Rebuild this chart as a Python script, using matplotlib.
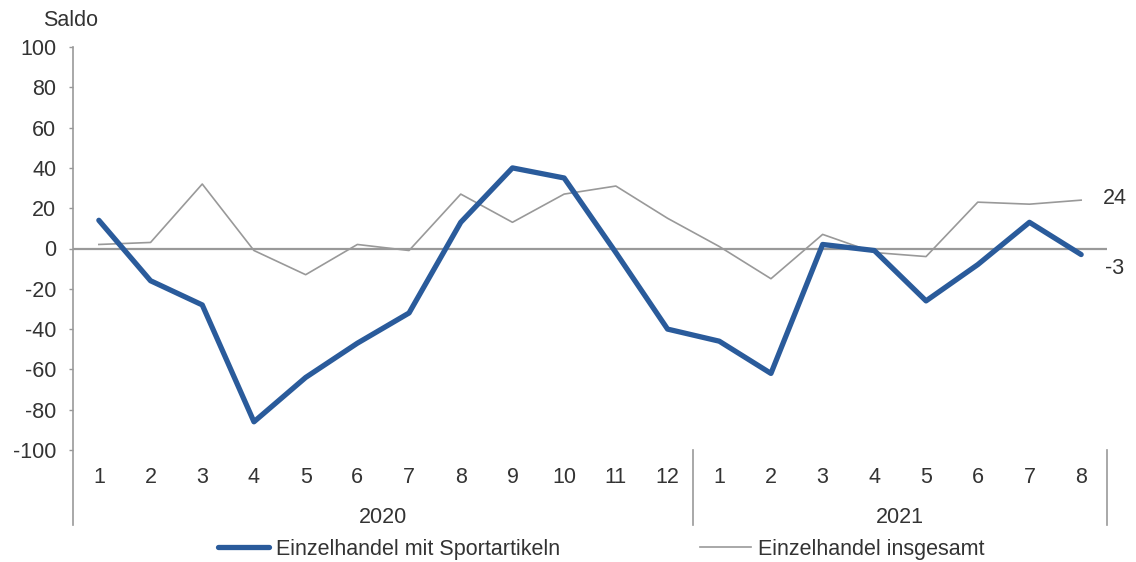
import numpy as np
import matplotlib.pyplot as plt

plt.rcParams['font.family'] = ['Liberation Sans', 'DejaVu Sans']
plt.rcParams['axes.unicode_minus'] = False

# %% Data
months = ['1', '2', '3', '4', '5', '6', '7', '8', '9', '10', '11', '12',
          '1', '2', '3', '4', '5', '6', '7', '8']
years = ['2020', '2021']
months_per_year = [12, 8]
sport = [14, -16, -28, -86, -64, -47, -32, 13, 40, 35, -2, -40,
         -46, -62, 2, -1, -26, -8, 13, -3]
total = [2, 3, 32, -1, -13, 2, -1, 27, 13, 27, 31, 15,
         1, -15, 7, -2, -4, 23, 22, 24]

blue = '#2a5b9b'
grey = '#999999'
txt = '#333333'
fs = 15.5

# %% Plot
fig = plt.figure(figsize=(11.36, 5.62), dpi=100)
ax = fig.add_axes([73 / 1136, 1 - 450 / 562, (1107 - 73) / 1136, (450 - 47) / 562])

x = np.arange(len(months))
ax.axhline(0, color=grey, linewidth=1.6, zorder=1)
ax.plot(x, total, color=grey, linewidth=1.2, label='Einzelhandel insgesamt', zorder=2)
ax.plot(x, sport, color=blue, linewidth=3.8, solid_capstyle='round',
        label='Einzelhandel mit Sportartikeln', zorder=3)

ax.set_xlim(-0.5, len(months) - 0.5)
ax.set_ylim(-100, 100)
ax.set_yticks(range(-100, 101, 20))
ax.tick_params(axis='y', colors=grey, length=3, width=1, labelsize=fs, labelcolor=txt, pad=9)
ax.set_xticks([])
for s in ['top', 'right', 'bottom', 'left']:
    ax.spines[s].set_visible(False)

# axis line and category separators, extended below the plot
tr = ax.get_xaxis_transform()
ax.plot([-0.5, -0.5], [1, -0.186], color=grey, linewidth=1.2, transform=tr, clip_on=False)
start = 0
for yr, n in zip(years, months_per_year):
    end = start + n
    ax.plot([end - 0.5, end - 0.5], [0, -0.186], color=grey, linewidth=1.2,
            transform=tr, clip_on=False)
    ax.text((start + end - 1) / 2, -0.168, yr, transform=tr, ha='center', va='center',
            fontsize=fs, color=txt)
    start = end
for i, m in enumerate(months):
    ax.text(i, -0.068, m, transform=tr, ha='center', va='center', fontsize=fs, color=txt)

# end labels
ax.annotate(f'{total[-1]}', (x[-1], total[-1]), xytext=(16, 1), textcoords='offset points',
            ha='left', va='center', fontsize=fs, color=txt)
ax.annotate(f'{sport[-1]}', (x[-1], sport[-1]), xytext=(17, -10), textcoords='offset points',
            ha='left', va='center', fontsize=fs, color=txt)

fig.text(71 / 1136, 1 - 20 / 562, 'Saldo', ha='center', va='center', fontsize=fs, color=txt)

handles, labels = ax.get_legend_handles_labels()
fig.legend(handles[::-1], labels[::-1], loc='center', bbox_to_anchor=(0.529, 1 - 549 / 562),
           ncol=2, frameon=False, fontsize=fs, handlelength=2.4, handletextpad=0.3,
           columnspacing=6.5, labelcolor=txt)

plt.savefig('out.png', dpi=100)
plt.close()
